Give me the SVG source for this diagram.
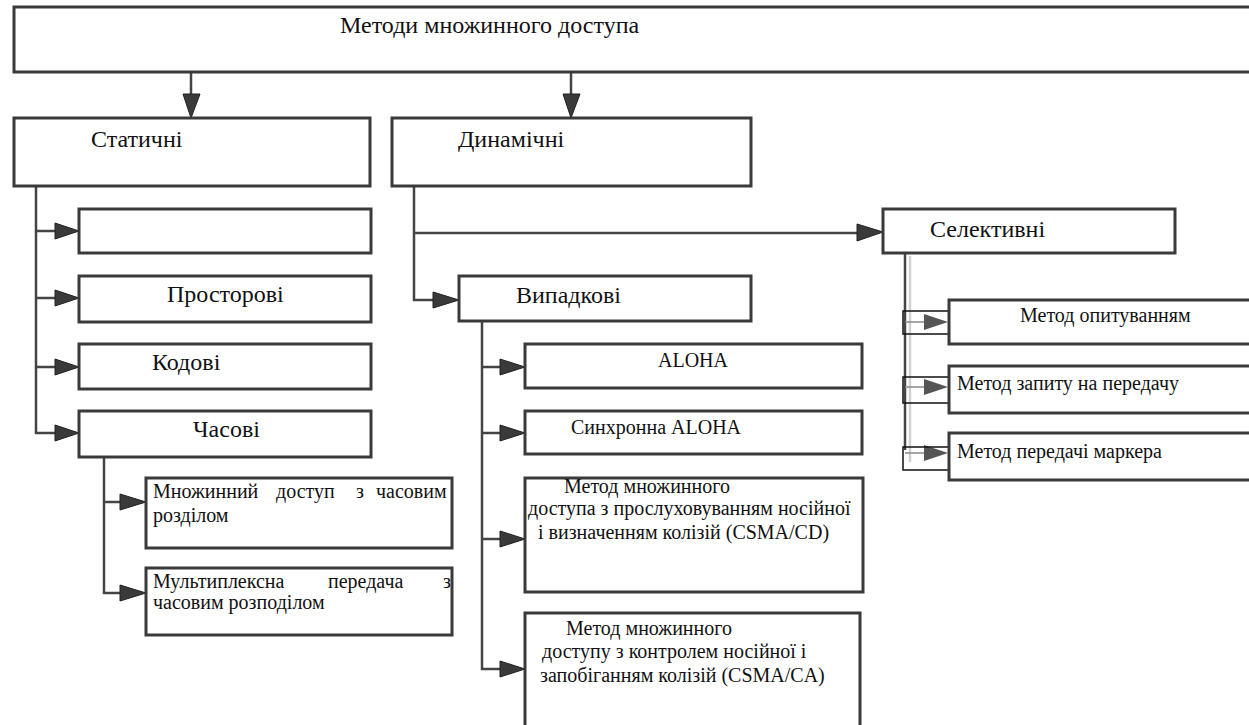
<svg xmlns="http://www.w3.org/2000/svg" width="1249" height="725" viewBox="0 0 1249 725">
<defs>
<style>
.box{fill:#fff;stroke:#3a3a3a;stroke-width:3}
.h{font-size:24px}
.xs{font-size:20px}
.ln{fill:none;stroke:#444;stroke-width:2.5}
.ah{fill:#3a3a3a;stroke:#222;stroke-width:1}
.ahg{fill:#555;stroke:none}
.sr{fill:none;stroke:#111;stroke-width:1.5}
</style>
</defs>
<rect width="1249" height="725" fill="#fff"/>

<g id="connectors">
  <line class="ln" x1="191" y1="72" x2="191" y2="95"/>
  <polygon class="ah" points="183,94 200,94 191,118"/>
  <line class="ln" x1="571" y1="72" x2="571" y2="95"/>
  <polygon class="ah" points="563,94 580,94 571,118"/>

  <polyline class="ln" points="36,186 36,433 56,433"/>
  <line class="ln" x1="36" y1="231" x2="56" y2="231"/>
  <line class="ln" x1="36" y1="298" x2="56" y2="298"/>
  <line class="ln" x1="36" y1="367" x2="56" y2="367"/>
  <polygon class="ah" points="55,223 79,231 55,239"/>
  <polygon class="ah" points="55,290 79,298 55,306"/>
  <polygon class="ah" points="55,359 79,367 55,375"/>
  <polygon class="ah" points="55,425 79,433 55,441"/>

  <polyline class="ln" points="104,457 104,593 121,593"/>
  <line class="ln" x1="104" y1="502" x2="121" y2="502"/>
  <polygon class="ah" points="120,494 146,502 120,510"/>
  <polygon class="ah" points="120,585 146,593 120,601"/>

  <polyline class="ln" points="414,186 414,300 434,300"/>
  <line class="ln" x1="414" y1="233" x2="858" y2="233"/>
  <polygon class="ah" points="433,292 459,300 433,308"/>
  <polygon class="ah" points="857,224 883,232 857,241"/>

  <polyline class="ln" points="482,321 482,669 501,669"/>
  <line class="ln" x1="482" y1="367" x2="501" y2="367"/>
  <line class="ln" x1="482" y1="433" x2="501" y2="433"/>
  <line class="ln" x1="482" y1="539" x2="501" y2="539"/>
  <polygon class="ah" points="500,359 525,367 500,375"/>
  <polygon class="ah" points="500,425 525,433 500,441"/>
  <polygon class="ah" points="500,531 525,539 500,547"/>
  <polygon class="ah" points="500,661 525,669 500,677"/>

  <line x1="910" y1="256" x2="910" y2="462" stroke="#d0d0d0" stroke-width="2.5"/>
  <line x1="905" y1="253" x2="905" y2="450" stroke="#444" stroke-width="2.5"/>
  <line x1="905" y1="322" x2="926" y2="322" stroke="#888" stroke-width="1.5"/>
  <line x1="905" y1="387" x2="926" y2="387" stroke="#888" stroke-width="1.5"/>
  <line x1="905" y1="453" x2="926" y2="453" stroke="#888" stroke-width="1.5"/>
  <polygon class="ahg" points="924,314 948,322 924,330"/>
  <polygon class="ahg" points="924,379 948,387 924,395"/>
  <polygon class="ahg" points="924,445 948,453 924,461"/>
  <rect class="sr" x="903" y="311" width="53" height="23"/>
  <rect class="sr" x="903" y="377" width="53" height="26"/>
  <rect class="sr" x="903" y="447" width="53" height="23"/>
</g>

<g id="nodes" font-family="'Liberation Serif', 'DejaVu Serif', 'Times New Roman', serif" fill="#111">
<g id="n-root">
  <rect class="box" x="14" y="7" width="1250" height="65"/>
  <text class="h" x="340" y="33">Методи множинного доступа</text>
</g>
<g id="n-static">
  <rect class="box" x="14" y="118" width="356" height="68"/>
  <text class="h" x="91" y="147">Статичні</text>
</g>
<g id="n-dynamic">
  <rect class="box" x="392" y="118" width="359" height="68"/>
  <text class="h" x="458" y="147">Динамічні</text>
</g>
<g id="n-empty">
  <rect class="box" x="79" y="209" width="292" height="44"/>
</g>
<g id="n-spatial">
  <rect class="box" x="79" y="276" width="292" height="46"/>
  <text class="h" x="167" y="302">Просторові</text>
</g>
<g id="n-code">
  <rect class="box" x="79" y="344" width="292" height="45"/>
  <text class="h" x="152" y="370">Кодові</text>
</g>
<g id="n-time">
  <rect class="box" x="79" y="411" width="292" height="46"/>
  <text class="h" x="193" y="437">Часові</text>
</g>
<g id="n-tdma">
  <rect class="box" x="146" y="478" width="306" height="70"/>
  <text class="xs"><tspan x="153" y="498">Множинний</tspan><tspan x="276" y="498">доступ</tspan><tspan x="356" y="498">з</tspan><tspan x="376" y="498">часовим</tspan><tspan x="153" y="522">розділом</tspan></text>
</g>
<g id="n-tdm">
  <rect class="box" x="146" y="568" width="306" height="67"/>
  <text class="xs"><tspan x="153" y="588">Мультиплексна</tspan><tspan x="328" y="588">передача</tspan><tspan x="443" y="588">з</tspan><tspan x="153" y="609">часовим розподілом</tspan></text>
</g>
<g id="n-random">
  <rect class="box" x="459" y="276" width="292" height="45"/>
  <text class="h" x="516" y="303">Випадкові</text>
</g>
<g id="n-aloha">
  <rect class="box" x="525" y="344" width="337" height="44"/>
  <text class="xs" x="693" y="367" text-anchor="middle">ALOHA</text>
</g>
<g id="n-saloha">
  <rect class="box" x="525" y="411" width="337" height="43"/>
  <text class="xs" x="571" y="434">Синхронна ALOHA</text>
</g>
<g id="n-csmacd">
  <rect class="box" x="525" y="478" width="338" height="114"/>
  <text class="xs"><tspan x="564" y="493">Метод множинного</tspan><tspan x="528" y="515">доступа з прослуховуванням носійної</tspan><tspan x="538" y="539">і визначенням колізій (CSMA/CD)</tspan></text>
</g>
<g id="n-csmaca">
  <rect class="box" x="525" y="613" width="335" height="116"/>
  <text class="xs"><tspan x="566" y="635">Метод множинного</tspan><tspan x="542" y="658">доступу з контролем носійної і</tspan><tspan x="540" y="682">запобіганням колізій (CSMA/CA)</tspan></text>
</g>
<g id="n-selective">
  <rect class="box" x="883" y="209" width="292" height="44"/>
  <text class="h" x="930" y="237">Селективні</text>
</g>
<g id="n-poll">
  <rect class="box" x="949" y="300" width="310" height="44"/>
  <text class="xs" x="1020" y="322">Метод опитуванням</text>
</g>
<g id="n-request">
  <rect class="box" x="949" y="366" width="310" height="47"/>
  <text class="xs" x="957" y="390">Метод запиту на передачу</text>
</g>
<g id="n-token">
  <rect class="box" x="949" y="433" width="310" height="47"/>
  <text class="xs" x="957" y="458">Метод передачі маркера</text>
</g>
</g>
</svg>
